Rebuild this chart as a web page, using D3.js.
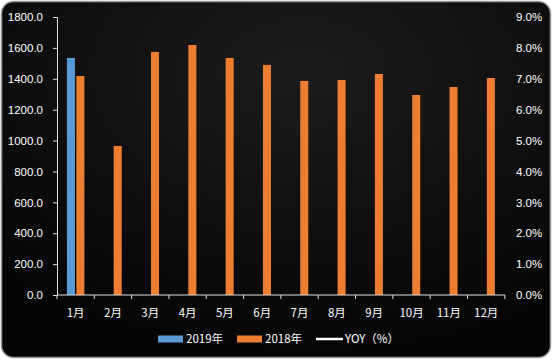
<!DOCTYPE html>
<html>
<head>
<meta charset="utf-8">
<script src="https://cdn.jsdelivr.net/npm/d3@7"></script>
<style>
  body { margin: 0; background: #ffffff; }
  svg { display: block; font-family: "Noto Sans CJK SC", "Noto Sans", sans-serif; }
</style>
</head>
<body>
<svg id="chart" width="552" height="363"></svg>
<script>
// chart data
const months = ["1月", "2月", "3月", "4月", "5月", "6月", "7月", "8月", "9月", "10月", "11月", "12月"];
const sales2019 = [1535, null, null, null, null, null, null, null, null, null, null, null];
const sales2018 = [1418, 965, 1574, 1619, 1535, 1490, 1386, 1392, 1431, 1295, 1347, 1405];
const yoy = []; // no YOY points shown
const leftTicks = [0, 200, 400, 600, 800, 1000, 1200, 1400, 1600, 1800];
const rightTicks = [0, 0.01, 0.02, 0.03, 0.04, 0.05, 0.06, 0.07, 0.08, 0.09];
const legendItems = [
  { name: "2019年", color: "#5b9bd5", kind: "bar" },
  { name: "2018年", color: "#ed7d31", kind: "bar" },
  { name: "YOY（%）", color: "#ffffff", kind: "line" }
];

const width = 552, height = 363;
const margin = { top: 17, right: 47, bottom: 68, left: 57 };

const svg = d3.select("#chart");

// dark panel
const defs = svg.append("defs");
const grad = defs.append("radialGradient").attr("id", "bg")
  .attr("cx", "55%").attr("cy", "20%").attr("r", "80%");
grad.append("stop").attr("offset", "0%").attr("stop-color", "#1c1c1c");
grad.append("stop").attr("offset", "100%").attr("stop-color", "#050505");

svg.append("rect")
  .attr("x", 1.5).attr("y", 1.5)
  .attr("width", width - 3).attr("height", 356)
  .attr("rx", 12)
  .attr("fill", "url(#bg)")
  .attr("stroke", "#9a9a9a")
  .attr("stroke-width", 1.5);

const x = d3.scaleBand()
  .domain(months)
  .range([margin.left, width - margin.right - 0.2]);

const xSeries = d3.scaleBand()
  .domain(["2019", "2018"])
  .range([0, x.bandwidth()])
  .paddingInner(0.15)
  .paddingOuter(1.05);

const y = d3.scaleLinear()
  .domain([0, 1800])
  .range([height - margin.bottom, margin.top]);

const y2 = d3.scaleLinear()
  .domain([0, 0.09])
  .range([height - margin.bottom, margin.top]);

// bars
const series = [
  { key: "2019", values: sales2019, color: "#5b9bd5" },
  { key: "2018", values: sales2018, color: "#ed7d31" }
];

series.forEach(function(s) {
  svg.append("g").selectAll("rect")
    .data(s.values.map(function(v, i) { return { m: months[i], v: v }; })
      .filter(function(d) { return d.v != null; }))
    .join("rect")
    .attr("x", function(d) { return x(d.m) + xSeries(s.key); })
    .attr("width", xSeries.bandwidth())
    .attr("y", function(d) { return y(d.v); })
    .attr("height", function(d) { return y(0) - y(d.v); })
    .attr("fill", s.color);
});

// YOY line (empty in source)
svg.append("path")
  .datum(yoy)
  .attr("fill", "none")
  .attr("stroke", "#ffffff")
  .attr("stroke-width", 2)
  .attr("d", d3.line()
    .x(function(d, i) { return x(months[i]) + x.bandwidth() / 2; })
    .y(function(d) { return y2(d); }));

const axisColor = "#e0e0e0";
const textColor = "#ffffff";

// left axis
const gLeft = svg.append("g")
  .attr("transform", "translate(" + margin.left + ",0)")
  .call(d3.axisLeft(y).tickValues(leftTicks).tickFormat(d3.format(".1f")).tickSize(4).tickPadding(10));
gLeft.select(".domain").attr("stroke", axisColor);
gLeft.selectAll(".tick line").attr("stroke", axisColor);
gLeft.selectAll("text").attr("fill", textColor).attr("font-size", 11.5);

// right axis (labels only)
const gRight = svg.append("g")
  .attr("transform", "translate(" + (width - margin.right) + ",0)")
  .call(d3.axisRight(y2).tickValues(rightTicks).tickFormat(d3.format(".1%")).tickSize(0).tickPadding(11));
gRight.select(".domain").remove();
gRight.selectAll("text").attr("fill", textColor).attr("font-size", 11.5);

// bottom axis, ticks between categories
const gBottom = svg.append("g")
  .attr("transform", "translate(0," + y(0) + ")");
gBottom.append("line")
  .attr("x1", x.range()[0]).attr("x2", x.range()[1])
  .attr("stroke", axisColor);
gBottom.selectAll(".sep")
  .data(months.concat(["end"]))
  .join("line")
  .attr("x1", function(d, i) { return x.range()[0] + i * x.step(); })
  .attr("x2", function(d, i) { return x.range()[0] + i * x.step(); })
  .attr("y1", 0).attr("y2", 4)
  .attr("stroke", axisColor);
gBottom.selectAll(".lbl")
  .data(months)
  .join("text")
  .attr("x", function(d) { return x(d) + x.bandwidth() / 2; })
  .attr("y", 22)
  .attr("text-anchor", "middle")
  .attr("fill", textColor)
  .attr("font-size", 11.5)
  .text(function(d) { return d; });

// legend
const legendX = [158, 237, 316];
const legend = svg.append("g").attr("transform", "translate(0,339)");
legendItems.forEach(function(item, i) {
  const g = legend.append("g").attr("transform", "translate(" + legendX[i] + ",0)");
  if (item.kind === "bar") {
    g.append("rect").attr("x", 0).attr("y", -3.5).attr("width", 25).attr("height", 7).attr("fill", item.color);
  } else {
    g.append("line").attr("x1", 0).attr("x2", 27).attr("y1", 0).attr("y2", 0)
      .attr("stroke", item.color).attr("stroke-width", 2.5);
  }
  g.append("text")
    .attr("x", item.kind === "bar" ? 28 : 29)
    .attr("y", 4)
    .attr("fill", textColor)
    .attr("font-size", 11.5)
    .text(item.name);
});
</script>
</body>
</html>
